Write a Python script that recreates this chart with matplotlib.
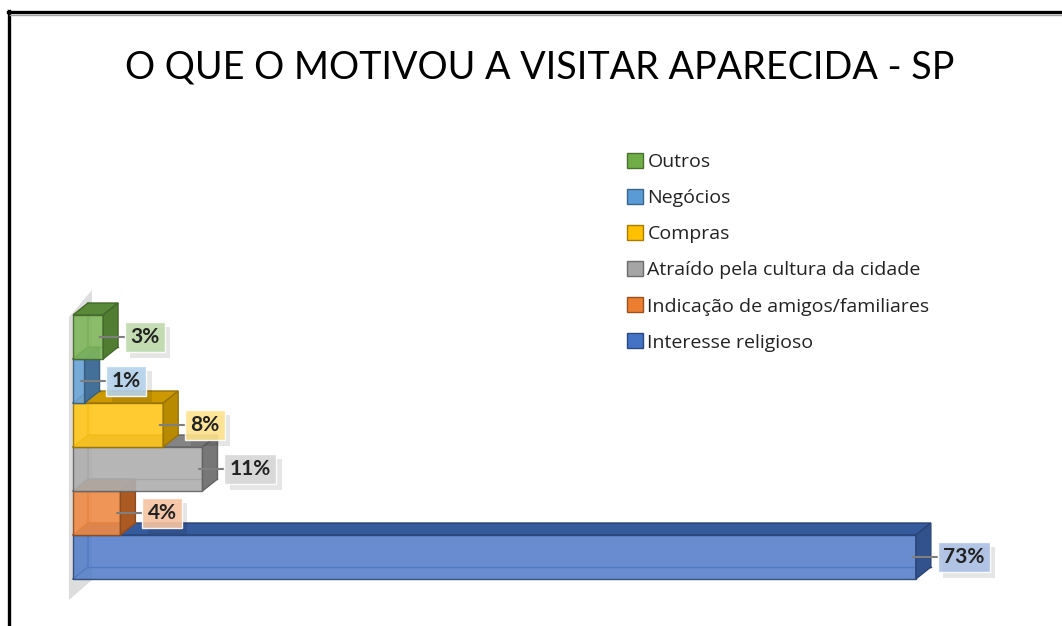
import numpy as np
import matplotlib
matplotlib.use('Agg')
from matplotlib import pyplot as plt
from matplotlib.patches import Polygon, Patch
from matplotlib.lines import Line2D
import matplotlib.colors as mcolors
import matplotlib.patheffects as pe

plt.rcParams['font.family'] = ['Lato', 'DejaVu Sans']

# data (bottom to top, as drawn)
categories = ['Interesse religioso', 'Indicação de amigos/familiares',
              'Atraído pela cultura da cidade', 'Compras', 'Negócios', 'Outros']
values = [72.9, 4.1, 11.2, 7.8, 1.0, 2.6]
colors = ['#4472C4', '#ED7D31', '#A5A5A5', '#FFC000', '#5B9BD5', '#70AD47']
title = 'O QUE O MOTIVOU A VISITAR APARECIDA - SP'

W, H = 1062, 626
fig = plt.figure(figsize=(W / 100, H / 100), dpi=100)

# plot area: front faces of the bars
ax = fig.add_axes([73 / W, (H - 579) / H, 844 / W, 264 / H])
ax.set_xlim(0, 73)
ax.set_ylim(-0.5, 5.5)
ax.set_axis_off()

# 3d depth offset (15 px right, 12 px up) in data units
dx = 15 / (844 / 73)
dy = 12 / 44


def shade(c, f):
  return tuple(np.array(mcolors.to_rgb(c)) * f)


def tint(c, f):
  rgb = np.array(mcolors.to_rgb(c))
  return tuple(rgb + (1 - rgb) * f)


# side wall
wall = Polygon([(-0.35, -0.98), (1.64, -0.52), (1.64, 6.07), (-0.35, 5.45)],
               closed=True, fc='#d8d8d8', ec='none', alpha=0.85, zorder=0, clip_on=False)
ax.add_patch(wall)

for i, (v, c) in enumerate(zip(values, colors)):
  y0, y1 = i - 0.5, i + 0.5
  z = 2 + i * 3
  edge = shade(c, 0.6)
  # back edges, seen through the front face
  ax.plot([0, dx, dx], [y0, y0 + dy, y1 + dy], color=edge, lw=1, zorder=z, clip_on=False)
  ax.plot([dx, v + dx], [y0 + dy, y0 + dy], color=edge, lw=1, zorder=z, clip_on=False)
  # front face
  ax.barh(i, v, height=1.0, left=0, color=tint(c, 0.1), alpha=0.9,
          edgecolor=edge, linewidth=1, zorder=z + 1, clip_on=False)
  # top face
  ax.add_patch(Polygon([(0, y1), (v, y1), (v + dx, y1 + dy), (dx, y1 + dy)], closed=True,
                       fc=shade(c, 0.8), ec=edge, lw=1, zorder=z + 1, clip_on=False))
  # right face
  ax.add_patch(Polygon([(v, y0), (v + dx, y0 + dy), (v + dx, y1 + dy), (v, y1)], closed=True,
                       fc=shade(c, 0.72), ec=edge, lw=1, zorder=z + 1, clip_on=False))

# data labels with a soft drop shadow on the box
shadow = [pe.SimplePatchShadow(offset=(4, -4), shadow_rgbFace='#000000', alpha=0.1), pe.Normal()]
for i, (v, c) in enumerate(zip(values, colors)):
  ax.annotate(f'{v:.0f}%', xy=(v - 0.3, i), xytext=(22, 0), textcoords='offset points',
              ha='left', va='center', fontsize=15, fontweight='bold', color='#222222',
              bbox=dict(boxstyle='square,pad=0.25', fc=tint(c, 0.55), ec='white', lw=1,
                        alpha=0.9, path_effects=shadow),
              arrowprops=dict(arrowstyle='-', color='#7f7f7f', lw=1.5, shrinkA=0, shrinkB=0),
              zorder=30, annotation_clip=False)

# legend, top entry = last category
handles = [Patch(fc=c, ec=shade(c, 0.65)) for c in colors[::-1]]
fig.legend(handles, categories[::-1], loc='upper left', bbox_to_anchor=(627 / W, 1 - 153 / H),
           frameon=False, labelspacing=0.92, handlelength=0.8, handleheight=0.8,
           handletextpad=0.25, borderpad=0, borderaxespad=0, labelcolor='#222222',
           prop={'family': ['Open Sans', 'DejaVu Sans'], 'size': 14})

fig.text(540 / W, 1 - 78 / H, title, ha='center', va='baseline', fontsize=27.2, color='black')

# frame of the chart (left and top edges only)
fig.add_artist(Line2D([9 / W, 9 / W], [0, 1 - 11 / H], color='black', lw=2.4))
fig.add_artist(Line2D([8 / W, 1], [1 - 12 / H, 1 - 12 / H], color='black', lw=2.4))
fig.add_artist(Line2D([10 / W, 1], [1 - 14.5 / H, 1 - 14.5 / H], color='#a0a0a0', lw=1))

fig.savefig('out.png', dpi=100)
